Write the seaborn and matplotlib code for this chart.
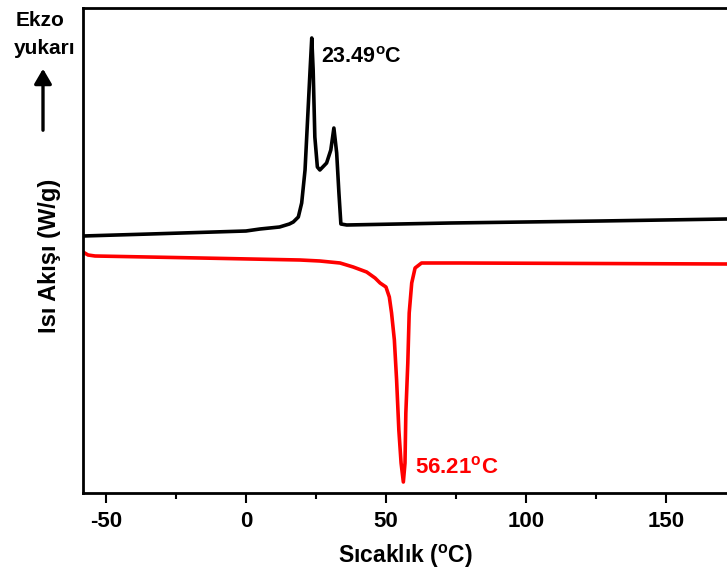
import matplotlib
matplotlib.use("Agg")
import matplotlib.pyplot as plt
import seaborn as sns
import numpy as np
import pandas as pd
from matplotlib.ticker import MultipleLocator

sns.set_theme(style="ticks")
plt.rcParams['font.family'] = ['Liberation Sans', 'DejaVu Sans']
plt.rcParams['mathtext.fontset'] = 'custom'
plt.rcParams['mathtext.rm'] = 'Liberation Sans:bold'
plt.rcParams['mathtext.it'] = 'Liberation Sans:bold'
plt.rcParams['axes.unicode_minus'] = False
plt.rcParams['text.color'] = 'black'
plt.rcParams['axes.labelcolor'] = 'black'
plt.rcParams['xtick.color'] = 'black'

# veriler (keyfi birim)
sogutma_T = [-58.2, -34.3, 0.0, 5.0, 12.0, 15.5, 16.9, 18.7, 19.9, 21.1, 22.0, 22.9,
             23.5, 24.0, 24.6, 25.5, 26.4, 28.8, 30.3, 31.4, 32.4, 33.2, 33.9, 36.0,
             72.9, 126.4, 171.8]
sogutma_q = [2.57, 2.59, 2.62, 2.64, 2.66, 2.69, 2.71, 2.76, 2.90, 3.23, 3.73, 4.23,
             4.55, 4.23, 3.56, 3.26, 3.23, 3.30, 3.43, 3.65, 3.40, 3.00, 2.69, 2.68,
             2.70, 2.72, 2.74]

isitma_T = [-58.2, -56.4, -53.9, -16.4, 19.3, 26.4, 33.6, 38.3, 43.1, 46.1, 47.9, 50.0,
            51.2, 52.0, 53.0, 53.8, 54.6, 55.4, 56.21, 56.8, 57.1, 57.8, 58.3, 59.2,
            60.4, 62.7, 76.4, 171.8]
isitma_q = [2.41, 2.38, 2.37, 2.35, 2.33, 2.32, 2.30, 2.26, 2.21, 2.15, 2.10, 2.06,
            1.96, 1.80, 1.53, 1.13, 0.63, 0.30, 0.11, 0.30, 0.80, 1.30, 1.80, 2.10,
            2.25, 2.30, 2.30, 2.29]

pik_kristal = 23.49
pik_erime = 56.21

df_s = pd.DataFrame({"T": sogutma_T, "q": sogutma_q})
df_i = pd.DataFrame({"T": isitma_T, "q": isitma_q})

fig = plt.figure(figsize=(7.27, 5.74), dpi=100)
ax = fig.add_axes([83 / 727, 81 / 574, 1 - 83 / 727, 485 / 574])

sns.lineplot(data=df_s, x="T", y="q", color="black", linewidth=2.6, ax=ax, sort=False)
sns.lineplot(data=df_i, x="T", y="q", color="red", linewidth=2.6, ax=ax, sort=False)

ax.set_xlim(-58.2, 171.8)
ax.set_ylim(0, 4.85)
ax.xaxis.set_major_locator(MultipleLocator(50))
ax.xaxis.set_minor_locator(MultipleLocator(25))
ax.set_yticks([])
ax.tick_params(axis="x", which="major", length=7, width=1.5, labelsize=16, pad=6)
ax.tick_params(axis="x", which="minor", length=4, width=1.5)
for lab in ax.get_xticklabels():
    lab.set_fontweight("bold")
for s in ["left", "bottom", "top"]:
    ax.spines[s].set_linewidth(2)
    ax.spines[s].set_color("black")
ax.spines["right"].set_visible(False)

ax.set_xlabel(r"Sıcaklık ($^{\mathrm{o}}$C)", fontsize=16.5, fontweight="bold", labelpad=8)
ax.set_ylabel("")
fig.text(50 / 727, 1 - 256 / 574, "Isı Akışı (W/g)", rotation=90, fontsize=17,
         fontweight="bold", ha="center", va="center")

ax.text(26.8, 4.35, f"{pik_kristal:.2f}" + r"$^{\mathrm{o}}$C", fontsize=15.5,
        fontweight="bold", color="black", va="center", ha="left")
ax.text(60.4, 0.26, f"{pik_erime:.2f}" + r"$^{\mathrm{o}}$C", fontsize=16,
        fontweight="bold", color="red", va="center", ha="left")

fig.text(40 / 727, 1 - 21 / 574, "Ekzo", fontsize=15, fontweight="bold",
         ha="center", va="center")
fig.text(45 / 727, 1 - 49 / 574, "yukarı", fontsize=15, fontweight="bold",
         ha="center", va="center")
fig.patches.append(matplotlib.patches.FancyArrowPatch(
    (43 / 727, 1 - 133 / 574), (43 / 727, 1 - 66 / 574), transform=fig.transFigure,
    arrowstyle="-|>,head_length=6,head_width=3.5", color="black", linewidth=2.4,
    mutation_scale=1.5))

plt.savefig("out.png", dpi=100)
plt.close()
